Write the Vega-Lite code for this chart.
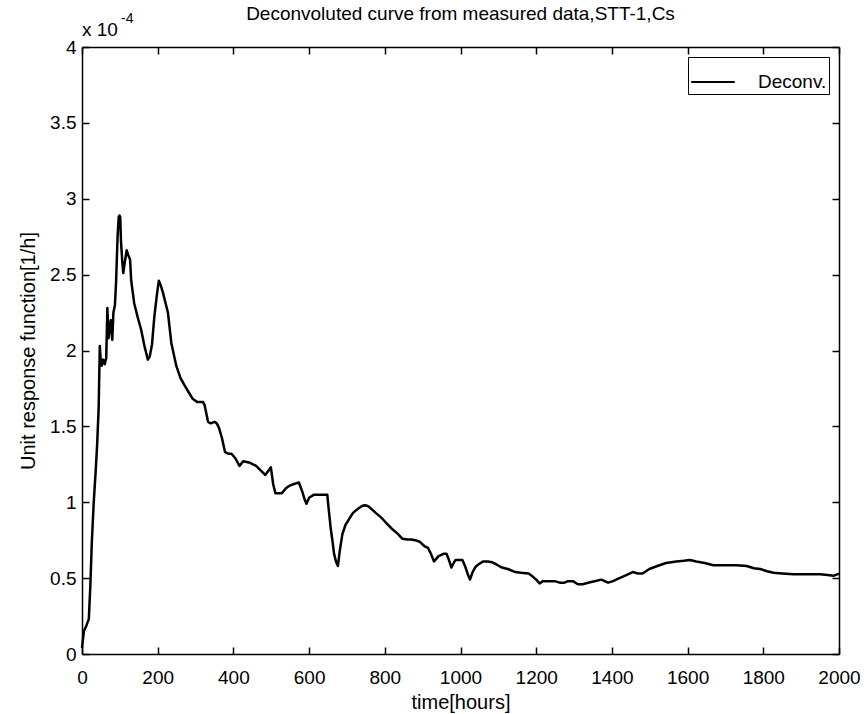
{
  "$schema": "https://vega.github.io/schema/vega-lite/v6.json",
  "width": 757,
  "height": 607,
  "autosize": {"type": "none"},
  "padding": {"left": 82, "top": 47, "right": 28, "bottom": 60},
  "background": "white",
  "config": {
    "font": "Liberation Sans",
    "view": {"stroke": null},
    "axis": {
      "grid": false,
      "domainColor": "black",
      "domainWidth": 1.5,
      "tickColor": "black",
      "tickWidth": 1.5,
      "tickSize": -7,
      "labelColor": "black",
      "labelFont": "Liberation Sans",
      "labelFontSize": 19,
      "titleFont": "Liberation Sans",
      "titleFontSize": 20,
      "titleFontWeight": "normal",
      "titleColor": "black"
    }
  },
  "title": {
    "text": "Deconvoluted curve from measured data,STT-1,Cs",
    "font": "Liberation Sans",
    "fontSize": 19,
    "fontWeight": "normal",
    "color": "black",
    "frame": "group",
    "anchor": "middle",
    "offset": 0,
    "dy": 12
  },
  "datasets": {
    "note": [{"label": "x 10", "exponent": "-4"}]
  },
  "data": {
    "values": [
      {"time": 0, "response": 0.000004},
      {"time": 5, "response": 0.000015},
      {"time": 12, "response": 0.000019},
      {"time": 18, "response": 0.000023},
      {"time": 22, "response": 0.000045},
      {"time": 26, "response": 0.000074},
      {"time": 31, "response": 0.0001},
      {"time": 36, "response": 0.00012},
      {"time": 40, "response": 0.000138},
      {"time": 44, "response": 0.000162},
      {"time": 47, "response": 0.000203},
      {"time": 49, "response": 0.000195},
      {"time": 52, "response": 0.00019},
      {"time": 56, "response": 0.000194},
      {"time": 60, "response": 0.000191},
      {"time": 64, "response": 0.000195},
      {"time": 67, "response": 0.000228},
      {"time": 70, "response": 0.000208},
      {"time": 73, "response": 0.000215},
      {"time": 76, "response": 0.00022},
      {"time": 78, "response": 0.000212},
      {"time": 80, "response": 0.000207},
      {"time": 83, "response": 0.000225},
      {"time": 87, "response": 0.00023},
      {"time": 90, "response": 0.000245},
      {"time": 94, "response": 0.000275},
      {"time": 97, "response": 0.000288},
      {"time": 99, "response": 0.000289},
      {"time": 101, "response": 0.000288},
      {"time": 103, "response": 0.000272},
      {"time": 106, "response": 0.00026},
      {"time": 109, "response": 0.000251},
      {"time": 113, "response": 0.000258},
      {"time": 118, "response": 0.000266},
      {"time": 122, "response": 0.000263},
      {"time": 127, "response": 0.00026},
      {"time": 130, "response": 0.000246},
      {"time": 138, "response": 0.000231},
      {"time": 147, "response": 0.000222},
      {"time": 156, "response": 0.000214},
      {"time": 165, "response": 0.000203},
      {"time": 174, "response": 0.000194},
      {"time": 179, "response": 0.000196},
      {"time": 185, "response": 0.000204},
      {"time": 191, "response": 0.000222},
      {"time": 198, "response": 0.000237},
      {"time": 203, "response": 0.000246},
      {"time": 208, "response": 0.000243},
      {"time": 214, "response": 0.000238},
      {"time": 220, "response": 0.000232},
      {"time": 227, "response": 0.000225},
      {"time": 236, "response": 0.000205},
      {"time": 249, "response": 0.00019},
      {"time": 260, "response": 0.000182},
      {"time": 271, "response": 0.000177},
      {"time": 283, "response": 0.000172},
      {"time": 293, "response": 0.000168},
      {"time": 305, "response": 0.000166},
      {"time": 320, "response": 0.000166},
      {"time": 324, "response": 0.000164},
      {"time": 333, "response": 0.000153},
      {"time": 340, "response": 0.000152},
      {"time": 350, "response": 0.000153},
      {"time": 356, "response": 0.000152},
      {"time": 362, "response": 0.000149},
      {"time": 370, "response": 0.000142},
      {"time": 378, "response": 0.000133},
      {"time": 386, "response": 0.000132},
      {"time": 395, "response": 0.000132},
      {"time": 405, "response": 0.000129},
      {"time": 416, "response": 0.000124},
      {"time": 426, "response": 0.000127},
      {"time": 444, "response": 0.000126},
      {"time": 460, "response": 0.000124},
      {"time": 472, "response": 0.000121},
      {"time": 484, "response": 0.000118},
      {"time": 493, "response": 0.000121},
      {"time": 499, "response": 0.000123},
      {"time": 505, "response": 0.000112},
      {"time": 511, "response": 0.000106},
      {"time": 528, "response": 0.000106},
      {"time": 538, "response": 0.000109},
      {"time": 549, "response": 0.000111},
      {"time": 560, "response": 0.000112},
      {"time": 573, "response": 0.000113},
      {"time": 582, "response": 0.000107},
      {"time": 588, "response": 0.000102},
      {"time": 593, "response": 0.000099},
      {"time": 600, "response": 0.000103},
      {"time": 613, "response": 0.000105},
      {"time": 648, "response": 0.000105},
      {"time": 652, "response": 0.000095},
      {"time": 657, "response": 0.000083},
      {"time": 662, "response": 0.000074},
      {"time": 666, "response": 0.000066},
      {"time": 671, "response": 0.000061},
      {"time": 676, "response": 0.000058},
      {"time": 681, "response": 0.000068},
      {"time": 688, "response": 0.000079},
      {"time": 696, "response": 0.000085},
      {"time": 706, "response": 0.000089},
      {"time": 716, "response": 0.000093},
      {"time": 728, "response": 0.0000955},
      {"time": 740, "response": 0.0000975},
      {"time": 747, "response": 0.000098},
      {"time": 755, "response": 0.0000975},
      {"time": 763, "response": 0.000096},
      {"time": 776, "response": 0.000093},
      {"time": 790, "response": 0.00009},
      {"time": 805, "response": 0.000086},
      {"time": 821, "response": 0.000082},
      {"time": 835, "response": 0.000079},
      {"time": 846, "response": 0.000076},
      {"time": 860, "response": 0.0000755},
      {"time": 870, "response": 0.0000755},
      {"time": 880, "response": 0.000075},
      {"time": 892, "response": 0.000074},
      {"time": 905, "response": 0.000071},
      {"time": 914, "response": 0.00007},
      {"time": 922, "response": 0.000066},
      {"time": 930, "response": 0.000061},
      {"time": 937, "response": 0.000063},
      {"time": 942, "response": 0.0000645},
      {"time": 955, "response": 0.000066},
      {"time": 963, "response": 0.000066},
      {"time": 968, "response": 0.000063},
      {"time": 976, "response": 0.000057},
      {"time": 982, "response": 0.00006},
      {"time": 987, "response": 0.000062},
      {"time": 995, "response": 0.000062},
      {"time": 1005, "response": 0.000062},
      {"time": 1012, "response": 0.000058},
      {"time": 1020, "response": 0.000052},
      {"time": 1025, "response": 0.000049},
      {"time": 1032, "response": 0.000054},
      {"time": 1040, "response": 0.0000575},
      {"time": 1047, "response": 0.000059},
      {"time": 1060, "response": 0.000061},
      {"time": 1072, "response": 0.000061},
      {"time": 1083, "response": 0.0000605},
      {"time": 1095, "response": 0.000059},
      {"time": 1109, "response": 0.000057},
      {"time": 1125, "response": 0.000056},
      {"time": 1145, "response": 0.000054},
      {"time": 1160, "response": 0.0000535},
      {"time": 1180, "response": 0.000053},
      {"time": 1191, "response": 0.000051},
      {"time": 1200, "response": 0.000049},
      {"time": 1209, "response": 0.0000465},
      {"time": 1218, "response": 0.000048},
      {"time": 1235, "response": 0.000048},
      {"time": 1249, "response": 0.000048},
      {"time": 1262, "response": 0.000047},
      {"time": 1275, "response": 0.000047},
      {"time": 1284, "response": 0.000048},
      {"time": 1297, "response": 0.000048},
      {"time": 1310, "response": 0.000046},
      {"time": 1323, "response": 0.000046},
      {"time": 1337, "response": 0.000047},
      {"time": 1354, "response": 0.000048},
      {"time": 1372, "response": 0.000049},
      {"time": 1390, "response": 0.000047},
      {"time": 1403, "response": 0.000048},
      {"time": 1420, "response": 0.00005},
      {"time": 1438, "response": 0.000052},
      {"time": 1455, "response": 0.000054},
      {"time": 1469, "response": 0.000053},
      {"time": 1481, "response": 0.000053},
      {"time": 1499, "response": 0.000056},
      {"time": 1520, "response": 0.000058},
      {"time": 1543, "response": 0.00006},
      {"time": 1570, "response": 0.000061},
      {"time": 1590, "response": 0.0000615},
      {"time": 1606, "response": 0.000062},
      {"time": 1623, "response": 0.000061},
      {"time": 1645, "response": 0.00006},
      {"time": 1668, "response": 0.0000585},
      {"time": 1700, "response": 0.0000585},
      {"time": 1730, "response": 0.0000585},
      {"time": 1756, "response": 0.000058},
      {"time": 1775, "response": 0.0000565},
      {"time": 1792, "response": 0.000056},
      {"time": 1810, "response": 0.0000545},
      {"time": 1827, "response": 0.0000535},
      {"time": 1850, "response": 0.000053},
      {"time": 1880, "response": 0.0000525},
      {"time": 1920, "response": 0.0000525},
      {"time": 1950, "response": 0.0000525},
      {"time": 1970, "response": 0.000052},
      {"time": 1985, "response": 0.0000515},
      {"time": 1995, "response": 0.0000525},
      {"time": 2000, "response": 0.000053}
    ]
  },
  "resolve": {"axis": {"x": "independent", "y": "independent"}},
  "layer": [
    {
      "mark": {"type": "line", "strokeWidth": 2.5, "strokeJoin": "round"},
      "encoding": {
        "x": {
          "field": "time",
          "type": "quantitative",
          "scale": {"domain": [0, 2000], "nice": false},
          "axis": {
            "title": "time[hours]",
            "values": [0, 200, 400, 600, 800, 1000, 1200, 1400, 1600, 1800, 2000],
            "format": "d",
            "labelPadding": 21,
            "titlePadding": 5,
            "labelFlush": false
          }
        },
        "y": {
          "field": "response",
          "type": "quantitative",
          "scale": {"domain": [0, 0.0004], "nice": false},
          "axis": {
            "title": "Unit response function[1/h]",
            "values": [0, 0.00005, 0.0001, 0.00015, 0.0002, 0.00025, 0.0003, 0.00035, 0.0004],
            "labelExpr": "format(datum.value * 10000, '.2~f')",
            "labelPadding": 13,
            "titlePadding": 11,
            "labelFlush": false
          }
        },
        "color": {
          "datum": "Deconv.",
          "type": "nominal",
          "scale": {"range": ["black"]},
          "legend": {
            "title": null,
            "orient": "top-right",
            "offset": 10,
            "padding": 2,
            "strokeColor": "black",
            "fillColor": "white",
            "cornerRadius": 0,
            "symbolType": "stroke",
            "symbolSize": 1900,
            "symbolStrokeWidth": 2,
            "labelFontSize": 19,
            "labelFont": "Liberation Sans",
            "labelColor": "black",
            "labelOffset": 22
          }
        }
      }
    },
    {
      "data": {"name": "note"},
      "mark": {"type": "text", "align": "left", "baseline": "alphabetic", "fontSize": 19, "font": "Liberation Sans", "color": "black", "dy": -11},
      "encoding": {
        "x": {
          "datum": 0,
          "type": "quantitative",
          "axis": {"orient": "top", "labels": false, "title": null, "values": [0, 200, 400, 600, 800, 1000, 1200, 1400, 1600, 1800, 2000]}
        },
        "y": {
          "datum": 0.0004,
          "type": "quantitative",
          "axis": {"orient": "right", "labels": false, "title": null, "values": [0, 0.00005, 0.0001, 0.00015, 0.0002, 0.00025, 0.0003, 0.00035, 0.0004]}
        },
        "text": {"field": "label"}
      }
    },
    {
      "data": {"name": "note"},
      "mark": {"type": "text", "align": "left", "baseline": "alphabetic", "fontSize": 14, "font": "Liberation Sans", "color": "black", "dx": 39, "dy": -24},
      "encoding": {
        "x": {"datum": 0, "type": "quantitative", "axis": null},
        "y": {"datum": 0.0004, "type": "quantitative", "axis": null},
        "text": {"field": "exponent"}
      }
    }
  ]
}
